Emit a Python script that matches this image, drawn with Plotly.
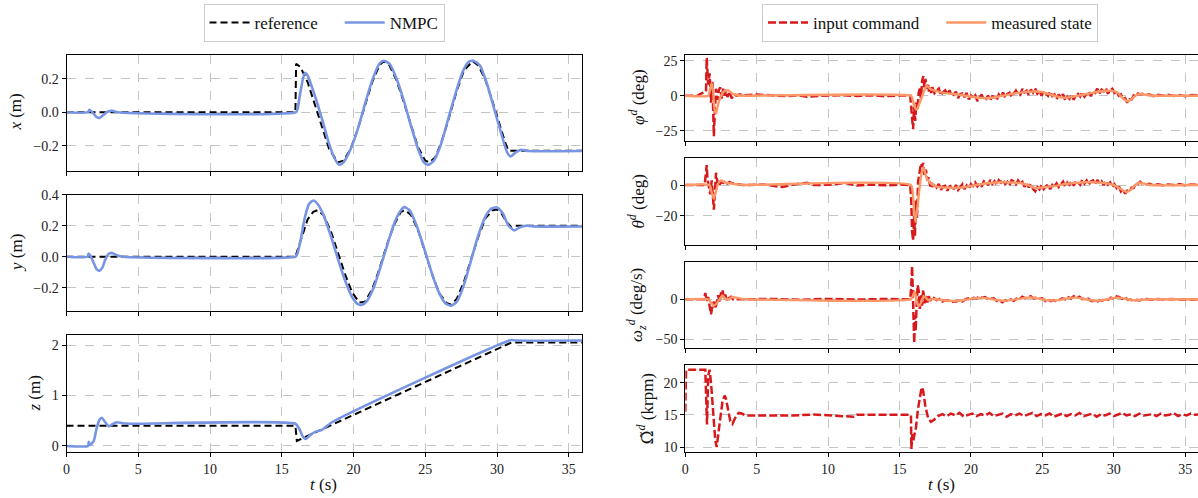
import plotly.graph_objects as go

W, H = 1198, 498
FONT = "'Liberation Serif', 'DejaVu Serif', 'Times New Roman', serif"
RED = "#d7191c"
ORANGE = "#fc9868"
BLUE = "#7895e4"

# ---------------- left column: position tracking (t, value) ----------------
x_ref = [(0, 0), (15.95, 0), (16.0, 0.29), (16.3, 0.27), (16.8, 0.18), (17.3, 0.05), (17.8, -0.09),
         (18.3, -0.22), (18.9, -0.30), (19.3, -0.29), (19.8, -0.22), (20.3, -0.10), (20.8, 0.04),
         (21.3, 0.18), (21.8, 0.28), (22.1, 0.305), (22.5, 0.28), (23.0, 0.19), (23.5, 0.06),
         (24.0, -0.08), (24.5, -0.21), (25.0, -0.29), (25.3, -0.30), (25.7, -0.27), (26.2, -0.16),
         (26.7, -0.02), (27.2, 0.13), (27.7, 0.25), (28.3, 0.305), (28.7, 0.28), (29.2, 0.19),
         (29.7, 0.06), (30.2, -0.08), (30.6, -0.19), (30.8, -0.23), (36, -0.23)]
x_nmpc = [(0, 0), (1.5, 0.0), (1.6, 0.015), (1.8, 0.0), (2.1, -0.03), (2.3, -0.035), (2.6, -0.015),
          (2.9, 0.005), (3.2, 0.008), (3.6, 0.0), (16.0, 0.0), (16.1, 0.02), (16.3, 0.12), (16.6, 0.235),
          (16.8, 0.22), (17.3, 0.10), (17.8, -0.04), (18.3, -0.19), (18.7, -0.28), (19.0, -0.315),
          (19.3, -0.30), (19.8, -0.22), (20.3, -0.10), (20.8, 0.05), (21.3, 0.19), (21.8, 0.29),
          (22.1, 0.308), (22.5, 0.29), (23.0, 0.20), (23.5, 0.07), (24.0, -0.08), (24.5, -0.22),
          (24.9, -0.30), (25.2, -0.315), (25.6, -0.29), (26.1, -0.19), (26.6, -0.04), (27.1, 0.11),
          (27.6, 0.24), (28.0, 0.30), (28.35, 0.308), (28.8, 0.28), (29.3, 0.17), (29.8, 0.02),
          (30.3, -0.13), (30.7, -0.24), (30.95, -0.265), (31.3, -0.24), (31.7, -0.225), (32.2, -0.232),
          (36, -0.232)]
y_ref = [(0, 0), (15.95, 0), (16.3, 0.10), (16.8, 0.24), (17.2, 0.29), (17.5, 0.30), (17.9, 0.27),
         (18.4, 0.17), (18.9, 0.03), (19.4, -0.11), (19.9, -0.23), (20.4, -0.295), (20.8, -0.29),
         (21.3, -0.21), (21.8, -0.08), (22.3, 0.07), (22.8, 0.20), (23.3, 0.29), (23.6, 0.30),
         (24.0, 0.27), (24.5, 0.17), (25.0, 0.03), (25.5, -0.12), (26.0, -0.24), (26.5, -0.30),
         (26.8, -0.31), (27.2, -0.27), (27.7, -0.16), (28.2, -0.02), (28.7, 0.13), (29.2, 0.25),
         (29.7, 0.30), (30.0, 0.305), (30.3, 0.28), (30.7, 0.22), (31.0, 0.19), (31.3, 0.2), (36, 0.2)]
y_nmpc = [(0, 0), (1.45, 0), (1.55, 0.02), (1.7, 0.0), (1.9, -0.04), (2.1, -0.08), (2.3, -0.09),
          (2.5, -0.07), (2.7, -0.02), (2.9, 0.015), (3.15, 0.025), (3.5, 0.01), (4.0, 0.0), (15.95, 0.0),
          (16.05, 0.01), (16.3, 0.10), (16.6, 0.25), (16.9, 0.34), (17.2, 0.363), (17.5, 0.34),
          (17.9, 0.27), (18.4, 0.14), (18.9, -0.01), (19.4, -0.15), (19.9, -0.26), (20.3, -0.305),
          (20.6, -0.31), (20.9, -0.29), (21.4, -0.20), (21.9, -0.06), (22.4, 0.09), (22.9, 0.23),
          (23.3, 0.30), (23.55, 0.32), (23.9, 0.30), (24.4, 0.20), (24.9, 0.06), (25.4, -0.09),
          (25.9, -0.22), (26.4, -0.30), (26.8, -0.316), (27.2, -0.29), (27.7, -0.18), (28.2, -0.02),
          (28.7, 0.14), (29.2, 0.26), (29.6, 0.31), (30.0, 0.318), (30.4, 0.28), (30.8, 0.20),
          (31.2, 0.17), (31.6, 0.19), (32.0, 0.2), (32.5, 0.195), (36, 0.195)]
z_ref = [(0, 0.4), (15.95, 0.4), (16.05, 0.1), (31.0, 2.05), (36, 2.05)]
z_nmpc = [(0, 0), (1.5, 0.0), (1.55, 0.08), (1.65, 0.02), (1.9, 0.1), (2.1, 0.35), (2.3, 0.52),
          (2.45, 0.56), (2.7, 0.47), (2.95, 0.39), (3.2, 0.43), (3.5, 0.47), (3.9, 0.45), (4.5, 0.44),
          (15.95, 0.44), (16.2, 0.35), (16.5, 0.17), (16.7, 0.14), (17.0, 0.22), (17.4, 0.29),
          (17.8, 0.32), (18.5, 0.47), (31.0, 2.1), (31.3, 2.09), (36, 2.09)]

# ---------------- right column: attitude / thrust ----------------
phi_cmd_head = [(0, 0), (0.9, 0), (1.0, 1.0), (1.4, 3), (1.45, 3), (1.5, 27), (1.6, 8), (1.7, 16),
                (1.8, -5), (1.9, 10), (2.0, -29), (2.05, -15), (2.15, 5), (2.25, -3), (2.35, 4),
                (2.45, 6), (2.55, -2), (2.65, 5), (2.75, 0), (2.85, 4), (2.95, -1), (3.1, 3), (3.25, -2),
                (3.4, 1), (3.6, 0), (3.8, 1), (4.0, 0.3), (5.0, 0.8), (6.0, 0.3), (7.0, -0.3), (8.0, 0.2),
                (8.5, -0.8), (9.5, 0.0), (11.0, 0.4), (12.0, -0.2), (13.0, 0.3), (14.0, -0.4), (15.0, 0.2),
                (15.75, 0), (15.8, -5), (15.87, -15), (15.95, -24), (16.02, -8), (16.1, -18), (16.18, -5),
                (16.26, -10), (16.34, 2), (16.42, 5), (16.5, -2), (16.58, 10), (16.66, 14), (16.74, 6),
                (16.82, 12), (16.9, 5), (16.98, 9), (17.06, 3), (17.14, 6), (17.22, 2)]
phi_cmd_mid = [6.1, 1.8, 3.6, 5.1, 0.1, 2.5, 3.7, 0.9, 3.9, -0.4,
               0.8, 2.9, -1.7, 1.2, 1.6, -1.0, 2.0, -2.6, 0.1, -1.2,
               0.3, -3.8, -1.2, 0.8, -3.0, -2.5, 0.1, -3.5, -0.4, -1.0,
               -3.3, 0.9, -0.8, 2.3, -1.3, 1.3, 2.1, -0.9, 1.6, 3.7,
               1.0, 0.5, 4.8, 2.3, 3.6, 0.6, 4.5, 2.2, 5.1, 1.4,
               3.2, -0.1, 3.5, 1.9, -0.1, 3.0, -0.3, 0.9, -2.5, 0.8,
               -1.4, 1.0, -3.4, -0.7, -2.2, 1.0, -2.9, 0.5, 1.3, -0.6,
               2.6, -0.7, 1.4, 3.0, -0.4, 3.0, 2.0, 5.0, 1.6, 4.3,
               3.2, 5.3, 1.4, 4.0, 5.0, 2.0, 3.3, 0.0, 1.0, -2.4,
               -1.8, -5.0, -2.6, -2.7, 0.2, -0.7, 1.5, 0.9, 1.4]
phi_cmd_tail = [(32.2, 0.5), (32.5, 0.8), (32.8, -0.3), (33.1, 0.6), (33.5, 0.0), (33.8, 0.7),
                (34.2, -0.2), (34.6, 0.5), (35.0, -0.4), (35.4, 0.4), (35.8, 0.0), (36, 0.2)]
phi_meas = [(0, 0), (1.6, 0), (1.75, 5), (1.85, 9), (1.95, 3), (2.05, -10), (2.15, -13), (2.3, -6),
            (2.5, 0), (2.7, 3), (3.0, 4), (3.3, 1.5), (3.7, 0.3), (4.2, 0), (15.8, 0), (15.9, -2),
            (16.0, -6), (16.1, -9), (16.2, -10), (16.3, -8), (16.45, -4), (16.6, 0), (16.75, 4),
            (16.9, 7), (17.05, 6), (17.2, 4.5), (17.5, 3.5), (18, 2.2), (18.5, 1.5), (19, 1.0),
            (19.5, 0.2), (20, -0.8), (20.5, -1.5), (21, -1.8), (21.5, -1.5), (22, -0.5), (22.5, 0.5),
            (23, 1.5), (23.5, 2.2), (24, 2.8), (24.5, 3.0), (25, 2.5), (25.5, 1.0), (26, -0.5),
            (26.5, -1.5), (27, -1.0), (27.5, 0.0), (28, 1.0), (28.5, 2.0), (29, 3.0), (29.5, 3.5),
            (30, 3.3), (30.3, 2.0), (30.6, -1.5), (31.0, -4), (31.3, -2), (31.6, 0.5), (31.9, 1.2),
            (32.3, 0.5), (32.8, 0), (36, 0)]

theta_cmd_head = [(0, 0), (1.35, 0), (1.45, 8), (1.5, 13), (1.55, 4), (1.65, -2), (1.75, -6), (1.85, 3),
                  (1.95, -12), (2.0, -16), (2.08, -4), (2.15, 8), (2.25, 2), (2.35, -1), (2.5, 2),
                  (2.65, 1.5), (2.8, 2.5), (2.95, 1), (3.1, 2), (3.3, 1), (3.5, 1.5), (3.7, 0.5),
                  (4.0, 0), (5.5, 0.3), (6.8, -1.3), (7.5, 0.2), (8.5, 1.5), (9.0, 0), (10.0, 0.2),
                  (11.2, 1.3), (12.0, -0.3), (13.0, 0.4), (14.0, -0.2), (15.0, 0.3), (15.75, 0),
                  (15.82, -10), (15.88, -30), (15.95, -36), (16.02, -20), (16.08, -33), (16.15, -10),
                  (16.22, -22), (16.3, 2), (16.4, 10), (16.5, 14), (16.58, 12), (16.66, 14.5),
                  (16.75, 6), (16.85, 10), (16.95, 3), (17.05, 5), (17.15, -1), (17.22, 2)]
theta_cmd_mid = [-1.2, 0.8, -1.5, 0.7, -3.1, -1.0, -0.5, -3.7, -1.0, -0.4,
                 -2.7, 0.0, -3.2, -1.4, 0.5, -2.7, -0.4, -2.6, 0.6, -0.6,
                 1.7, -0.8, 0.9, -1.2, 2.4, 1.6, -0.2, 3.3, 0.8, 2.5,
                 0.1, 3.1, 1.6, 3.6, 0.6, 2.1, -0.2, 3.1, 2.4, 0.5,
                 3.0, 0.7, 2.1, -1.1, 1.1, -1.6, 0.9, -2.4, -4.0, -1.2,
                 -2.8, 0.1, -2.6, -0.7, 0.4, -2.7, 0.1, -1.0, 1.1, -1.3,
                 0.4, 2.2, -0.9, 1.6, 0.2, 2.7, -0.4, 2.4, 1.7, 0.2,
                 3.6, 1.0, 3.0, 0.2, 2.4, 3.1, 0.5, 3.3, 1.1, 2.4,
                 0.0, 2.8, 0.3, 1.7, -1.3, 0.5, -2.0, -0.5, -4.1, -2.6,
                 -5.6, -3.6, -4.4, -1.7, -1.9, 1.3, 0.7, 2.2, 0.9]
theta_cmd_tail = [(32.2, 0.3), (32.5, 0.8), (32.8, -0.2), (33.1, 0.5), (33.5, -0.3), (33.8, 0.4),
                  (34.2, 0.0), (34.6, 0.6), (35.0, -0.2), (35.4, 0.3), (35.8, 0.0), (36, 0.2)]
theta_meas = [(0, 0), (1.7, 0), (1.85, -5), (2.0, -9), (2.15, -4), (2.3, 1), (2.5, 3), (2.8, 1.5),
              (3.2, 1), (3.8, 0.3), (4.2, 0), (15.8, 0), (15.95, -8), (16.1, -24), (16.25, -15),
              (16.4, -2), (16.55, 8), (16.7, 11), (16.85, 6), (17.0, 3), (17.2, 1), (17.5, -0.8),
              (18, -1.5), (18.5, -1.8), (19, -1.8), (19.5, -1.5), (20, -0.6), (20.5, 0.3), (21, 1.0),
              (21.5, 1.5), (22, 1.8), (22.5, 1.8), (23, 1.6), (23.5, 1.2), (24, 0.0), (24.5, -2.0),
              (25, -1.5), (25.5, -1.0), (26, -0.5), (26.5, 0.5), (27, 1.2), (27.5, 1.5), (28, 1.8),
              (28.5, 1.8), (29, 1.6), (29.5, 1.2), (30, 0.0), (30.5, -2.5), (30.9, -4.5), (31.2, -3.0),
              (31.5, 0.0), (31.8, 1.5), (32.1, 1.0), (32.5, 0.0), (36, 0)]

wz_cmd_head = [(0, 0), (1.3, 0), (1.4, 8), (1.5, -2), (1.6, 3), (1.7, -10), (1.8, -19), (1.9, -8),
               (2.0, -3), (2.1, -12), (2.2, -2), (2.3, 5), (2.4, -4), (2.5, 8), (2.6, 12), (2.7, 2),
               (2.8, 6), (2.9, -1), (3.0, 4), (3.1, 1), (3.2, 3), (3.35, 0), (3.5, 1), (3.7, 0),
               (4.0, 0), (6.0, 0.5), (8.0, -0.5), (10.0, 0.5), (12.0, -0.3), (14.0, 0.4), (15.75, 0),
               (15.82, 15), (15.88, 42), (15.93, 10), (15.98, -30), (16.03, -55), (16.08, -20),
               (16.13, -40), (16.2, -5), (16.27, 18), (16.35, 10), (16.42, -12), (16.5, 5), (16.58, -8),
               (16.66, 12), (16.75, -5), (16.85, 6), (16.95, -4), (17.05, 4), (17.15, -2), (17.3, 2)]
wz_cmd_mid = [1.8, -1.0, 0.5, -2.7, -1.4, -1.1, -4.1, -2.4, -2.8, -0.8,
              -2.7, -0.1, 1.3, -0.6, 1.9, 1.2, 3.8, 1.9, 2.9, 0.1,
              1.1, 1.2, -2.0, -1.4, -3.7, -1.2, -2.3, -0.2, -1.9, 0.9,
              0.2, 3.2, 1.2, 3.1, 3.9, 1.2, 2.4, 0.7, 1.2, -2.1,
              -0.2, -2.3, -1.1, -2.9, -0.5, 1.2, 0.0, 2.7, 1.1, 3.9,
              2.1, 3.4, 0.3, 1.0, 1.0, -2.1, -1.7, -3.9, -0.9, -1.7,
              0.8, -0.6, 2.1, 0.6, 3.6, 2.7, 0.6, 2.4, -0.7, -0.2,
              -2.5, -0.7, -1.5, -0.2]
wz_cmd_tail = [(32.3, 0.5), (32.7, -0.4), (33.1, 0.3), (33.6, -0.2), (34.1, 0.4), (34.6, -0.3),
               (35.1, 0.2), (35.6, -0.1), (36, 0)]
wz_meas = [(0, 0), (1.6, 0), (1.8, -4), (2.0, -8), (2.2, -5), (2.4, 0), (2.6, 5), (2.8, 1), (3.0, 0),
           (3.3, 3), (3.6, 2), (4.0, 0.5), (4.5, 0), (15.8, 0), (15.95, 5), (16.05, 10), (16.15, 4),
           (16.25, -6), (16.4, -8), (16.55, -2), (16.7, 4), (16.85, 2), (17.0, -1), (17.3, 0.5),
           (17.8, -0.5), (18.3, -1.5), (18.8, -2), (19.3, -1.5), (19.8, 0), (20.3, 1.5), (20.8, 1.8),
           (21.3, 0.8), (21.8, -0.8), (22.3, -1.8), (22.8, -1.0), (23.3, 0.3), (23.8, 1.8), (24.3, 2.2),
           (24.8, 0.8), (25.3, -1.0), (25.8, -1.5), (26.3, -0.3), (26.8, 1.5), (27.3, 2.2), (27.8, 1.0),
           (28.3, -0.8), (28.8, -1.8), (29.3, -0.8), (29.8, 1.0), (30.3, 2.2), (30.8, 0.8), (31.3, -1.2),
           (31.8, -0.8), (32.3, 0), (36, 0)]

omega_cmd_head = [(0, 15.5), (0.05, 22), (1.4, 22), (1.47, 17), (1.52, 13.5), (1.6, 21), (1.7, 22),
                  (1.8, 20), (1.95, 15), (2.1, 11), (2.2, 10), (2.3, 11.5), (2.45, 14.5), (2.6, 17),
                  (2.75, 18), (2.85, 17.5), (3.0, 15.5), (3.15, 14), (3.3, 13.6), (3.45, 14.2),
                  (3.6, 15.0), (3.75, 15.3), (3.95, 15.2), (4.2, 14.9), (4.5, 14.9), (6, 15.0),
                  (7.5, 14.9), (9, 15.05), (10.5, 14.9), (11.8, 14.7), (12.0, 15.0), (13.5, 14.95),
                  (15.0, 15.0), (15.8, 15.0), (15.83, 9.7), (15.9, 12), (15.97, 11), (16.05, 12),
                  (16.15, 13), (16.3, 16), (16.45, 18.5), (16.55, 19.3), (16.65, 18.8), (16.8, 16.5),
                  (17.0, 14.5), (17.2, 13.9), (17.4, 14.2), (17.7, 14.8)]
omega_cmd_mid = [15.1, 14.8, 15.2, 14.9, 15.3, 14.7, 15.0, 15.2, 14.8, 15.1,
                 14.9, 15.3, 14.8, 15.0, 15.2, 14.7, 15.1, 14.9, 15.2, 14.8,
                 15.0, 15.3, 14.8, 15.1, 14.9, 15.2, 14.7, 15.0, 15.2, 14.8,
                 15.1, 14.9, 15.3, 14.8, 15.0, 15.2, 14.7, 15.1, 14.9, 15.2,
                 14.8, 15.0, 15.3, 14.9, 15.1, 14.8, 15.2, 14.9, 15.0, 15.1,
                 14.8, 15.2, 14.9, 15.0, 15.3, 14.8, 15.1, 14.9, 15.2, 15.0,
                 15.1]

t_ticks = [0, 5, 10, 15, 20, 25, 30, 35]


def unz(pairs):
    return [p[0] for p in pairs], [p[1] for p in pairs]


def grid(start, step, vals):
    return [round(start + step * i, 3) for i in range(len(vals))]


def assemble(head, start, step, mid, tail=()):
    th, vh = unz(head)
    tt, vt = unz(list(tail))
    return th + grid(start, step, mid) + tt, vh + list(mid) + vt


fig = go.Figure()


def fx(p):
    return p / W


def fy(p):
    return 1 - p / H


left_x = [fx(66.5), fx(582)]
right_x = [fx(685.3), 1.0]
left_rows = [(54.5, 170.7), (194.7, 311), (335, 452)]
right_rows = [(54.7, 141), (158, 245), (261.7, 348), (365.3, 451.7)]

ref_dash = "7px,4px"
cmd_dash = "8px,3px"
PAD = "\u2002\u2002"

panels_left = [(x_ref, x_nmpc), (y_ref, y_nmpc), (z_ref, z_nmpc)]
for i, (ref, nm) in enumerate(panels_left):
    ax = "" if i == 0 else str(i + 1)
    t, v = unz(ref)
    fig.add_trace(go.Scatter(x=t, y=v, mode="lines", name="reference" + PAD, legend="legend",
                             showlegend=(i == 0), line=dict(color="black", width=2, dash=ref_dash),
                             xaxis="x" + ax, yaxis="y" + ax))
    t, v = unz(nm)
    fig.add_trace(go.Scatter(x=t, y=v, mode="lines", name="NMPC", legend="legend",
                             showlegend=(i == 0), line=dict(color=BLUE, width=2.6, shape="spline", smoothing=0.6),
                             xaxis="x" + ax, yaxis="y" + ax))

right_series = [
    (assemble(phi_cmd_head, 17.3, 0.15, phi_cmd_mid, phi_cmd_tail), phi_meas),
    (assemble(theta_cmd_head, 17.3, 0.15, theta_cmd_mid, theta_cmd_tail), theta_meas),
    (assemble(wz_cmd_head, 17.4, 0.2, wz_cmd_mid, wz_cmd_tail), wz_meas),
    (assemble(omega_cmd_head, 18.0, 0.3, omega_cmd_mid), None),
]
for j, (cmd, meas) in enumerate(right_series):
    ax = str(j + 4)
    fig.add_trace(go.Scatter(x=cmd[0], y=cmd[1], mode="lines", name="input command" + PAD, legend="legend2",
                             showlegend=(j == 0), line=dict(color=RED, width=2.5, dash=cmd_dash),
                             xaxis="x" + ax, yaxis="y" + ax))
    if meas is not None:
        t, v = unz(meas)
        fig.add_trace(go.Scatter(x=t, y=v, mode="lines", name="measured state", legend="legend2",
                                 showlegend=(j == 0),
                                 line=dict(color=ORANGE, width=2.4, shape="spline", smoothing=0.5),
                                 xaxis="x" + ax, yaxis="y" + ax))

common = dict(showline=True, linecolor="black", linewidth=1, mirror=True, ticks="outside",
              ticklen=4, tickwidth=1, tickcolor="black", showgrid=True, gridcolor="#c4c4c4",
              griddash="dash", gridwidth=0.8, zeroline=False, automargin=False,
              tickfont=dict(family=FONT, size=14, color="#222"))

layout = {}
left_y = [dict(range=[-0.35, 0.345], tickvals=[-0.2, 0, 0.2], tickformat=".1f"),
          dict(range=[-0.35, 0.40], tickvals=[-0.2, 0, 0.2, 0.4], tickformat=".1f"),
          dict(range=[-0.12, 2.2], tickvals=[0, 1, 2])]
for i in range(3):
    ax = "" if i == 0 else str(i + 1)
    top, bot = left_rows[i]
    layout["xaxis" + ax] = dict(common, domain=left_x, range=[0, 35.92], tickvals=t_ticks,
                                showticklabels=(i == 2), anchor="y" + ax)
    layout["yaxis" + ax] = dict(common, domain=[fy(bot), fy(top)], anchor="x" + ax, **left_y[i])

right_y = [dict(range=[-32.4, 29.3], tickvals=[-25, 0, 25]),
           dict(range=[-39, 17.6], tickvals=[-20, 0]),
           dict(range=[-61.3, 47.4], tickvals=[-50, 0]),
           dict(range=[9.27, 22.7], tickvals=[10, 15, 20])]
for j in range(4):
    ax = str(j + 4)
    top, bot = right_rows[j]
    layout["xaxis" + ax] = dict(common, domain=right_x, range=[0, 35.9], tickvals=t_ticks,
                                showticklabels=(j == 3), anchor="y" + ax)
    layout["yaxis" + ax] = dict(common, domain=[fy(bot), fy(top)], anchor="x" + ax, **right_y[j])

lab_font = dict(family=FONT, size=17, color="#111")
annotations = []
ylabels = [
    ("<i>x</i> (m)", 16, 112.6), ("<i>y</i> (m)", 16, 253), ("<i>z</i> (m)", 34, 393.5),
    ("<i>φ</i><sup><i>d</i></sup> (deg)", 637, 97.9),
    ("<i>θ</i><sup><i>d</i></sup> (deg)", 637, 201.5),
    ("<i>ω</i><sub><i>z</i></sub><sup><i>d</i></sup> (deg/s)", 637, 304.9),
    ("<span style='font-family:DejaVu Serif'>Ω\u0303</span><sup><i>d</i></sup> (krpm)", 645, 408.5),
]
for text, px, py in ylabels:
    annotations.append(dict(text=text, x=fx(px), y=fy(py), xref="paper", yref="paper",
                            textangle=-90, showarrow=False, xanchor="center", yanchor="middle",
                            font=lab_font))
for px in (324, 941):
    annotations.append(dict(text="<i>t</i> (s)", x=fx(px), y=fy(484), xref="paper", yref="paper",
                            showarrow=False, xanchor="center", yanchor="middle", font=lab_font))

leg_common = dict(orientation="h", xanchor="center", yanchor="top", bordercolor="#cccccc",
                  borderwidth=1, bgcolor="white", font=dict(family=FONT, size=17, color="#111"),
                  itemwidth=40)
layout["legend"] = dict(leg_common, x=fx(324), y=fy(4))
layout["legend2"] = dict(leg_common, x=fx(930), y=fy(4))

fig.update_layout(width=W, height=H, margin=dict(l=0, r=0, t=0, b=0, autoexpand=False),
                  paper_bgcolor="white", plot_bgcolor="white", annotations=annotations,
                  hovermode=False, font=dict(family=FONT), **layout)

fig.write_html("out.html", config={"displayModeBar": False},
               post_script="document.body.style.margin='0';document.body.style.padding='0';")
